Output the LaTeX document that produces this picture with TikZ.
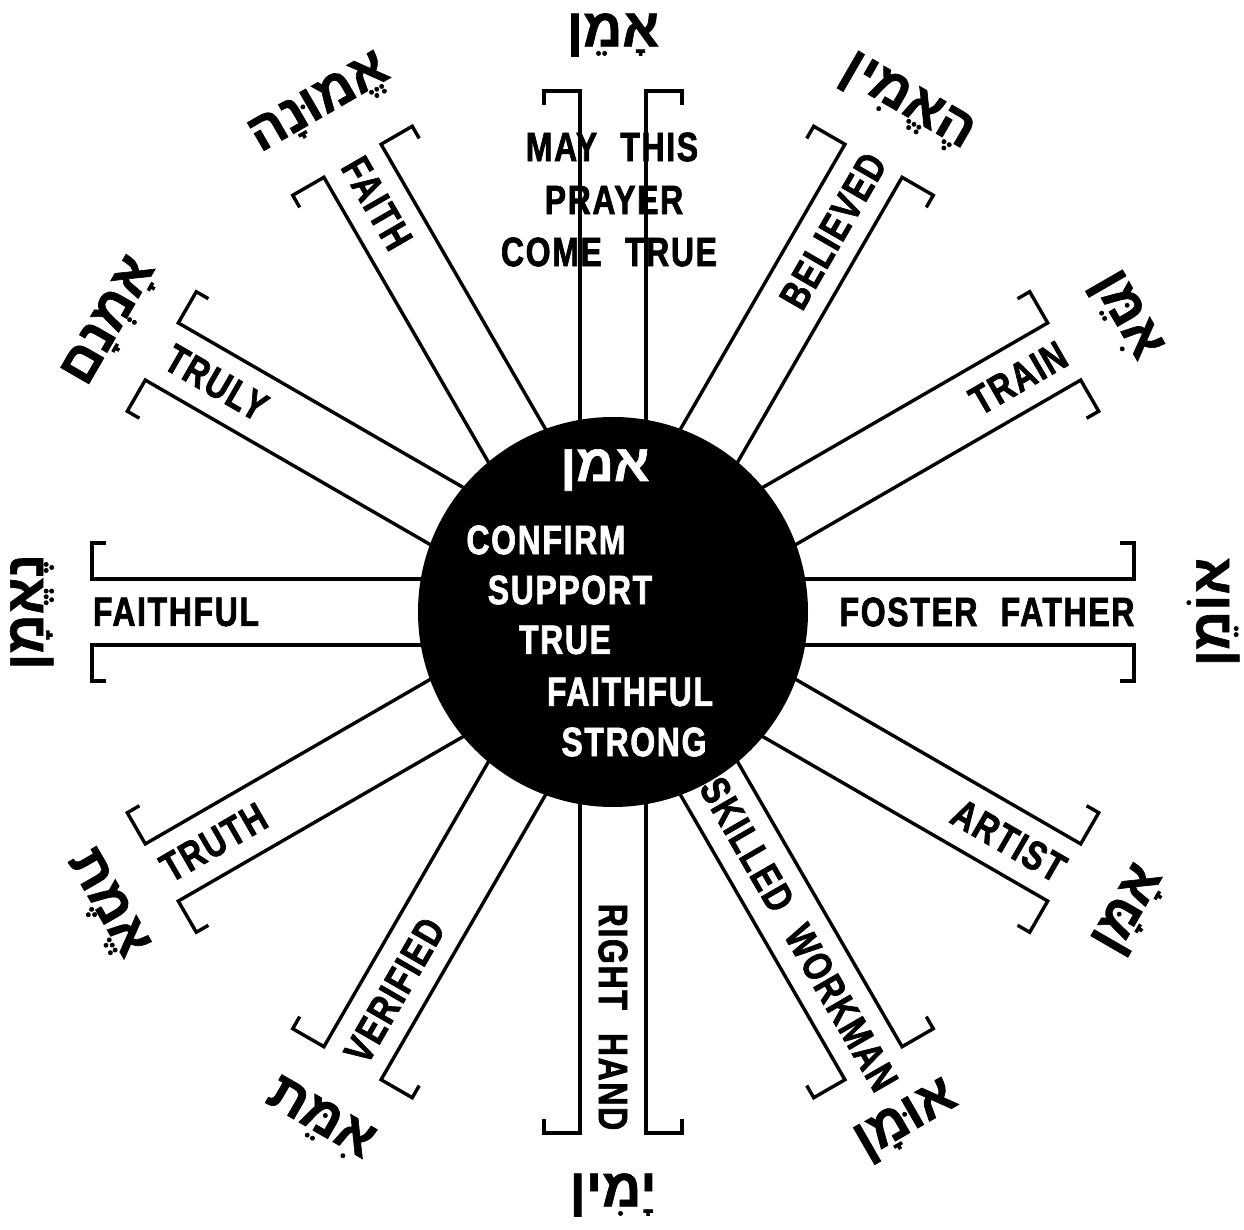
\documentclass[tikz,border=0pt]{standalone}
\usepackage{fontspec}
\TeXXeTstate=1
\newfontfamily\labfont[FakeStretch=0.78,LetterSpace=4,WordSpace=2.2,BoldFeatures={FakeBold=1.6}]{Liberation Sans}
\newfontfamily\hebfont[Script=Hebrew,BoldFeatures={FakeBold=1.2}]{Liberation Sans}
\begin{document}
\begin{tikzpicture}[x=1pt,y=1pt,
  band/.style={line width=3.4pt, line join=miter},
  lab/.style={font=\labfont\bfseries\fontsize{41}{44}\selectfont, inner sep=0pt},
  inlab/.style={lab, text=white},
  heb/.style={font=\hebfont\bfseries\fontsize{54}{58}\selectfont, inner sep=0pt},
  inheb/.style={font=\hebfont\bfseries\fontsize{52}{56}\selectfont, inner sep=0pt, text=white}]
\useasboundingbox (-613,-618) rectangle (631,612);
\fill[white] (-613,-618) rectangle (631,612);
% spokes
\foreach \a in {0,30,...,330}{
  \begin{scope}[rotate=\a]
    \draw[band] (150,33) -- (521,33) -- (521,69) -- (507,69);
    \draw[band] (150,-33) -- (521,-33) -- (521,-69) -- (507,-69);
  \end{scope}
}
% hub
\node[circle, fill=black, minimum size=390pt, inner sep=0pt] (hub) at (0,0) {};
\node[inheb] (c0) at (-8,142) {\beginR אמן\endR};
\node[inlab] (c1) at (-67,72) {CONFIRM};
\node[inlab] (c2) at (-43,22) {SUPPORT};
\node[inlab] (c3) at (-48,-28) {TRUE};
\node[inlab] (c4) at (17,-80) {FAITHFUL};
\node[inlab] (c5) at (21,-130) {STRONG};
% top spoke text
\node[lab] (t1) at (-1,465) {MAY THIS};
\node[lab] (t2) at (1,412) {PRAYER};
\node[lab] (t3) at (-4,360) {COME TRUE};
% English labels
\node[lab, rotate=0]   (e0)   at (0:374)   {FOSTER FATHER};
\node[lab, rotate=30]  (e30)  at (30:468)  {TRAIN};
\node[lab, rotate=60]  (e60)  at (60:440)  {BELIEVED};
\node[lab, rotate=-60] (e120) at (120:472) {FAITH};
\node[lab, rotate=-30] (e150) at (150:458) {TRULY};
\node[lab, rotate=0]   (e180) at (180:437) {FAITHFUL};
\node[lab, rotate=30]  (e210) at (210:461) {TRUTH};
\node[lab, rotate=60]  (e240) at (240:437) {VERIFIED};
\node[lab, rotate=-90] (e270) at (270:405) {RIGHT HAND};
\node[lab, rotate=-60] (e300) at (300:372) {SKILLED WORKMAN};
\node[lab, rotate=-30] (e330) at (330:457) {ARTIST};
% Hebrew words
\node[heb, rotate=0]   (h90)  at (90:577)  {\beginR אָמֵן\endR};
\node[heb, rotate=-30] (h60)  at (60:587)  {\beginR הֶאֱמִין\endR};
\node[heb, rotate=30]  (h120) at (120:585) {\beginR אֱמוּנָה\endR};
\node[heb, rotate=60]  (h150) at (150:579) {\beginR אָמְנָם\endR};
\node[heb, rotate=-60] (h30)  at (30:591)  {\beginR אִמֵּן\endR};
\node[heb, rotate=90]  (h0)   at (0:600)   {\beginR אוֹמֵן\endR};
\node[heb, rotate=90]  (h180) at (180:581) {\beginR נֶאֱמָן\endR};
\node[heb, rotate=60]  (h330) at (330:597) {\beginR אָמָּן\endR};
\node[heb, rotate=-60] (h210) at (210:586) {\beginR אֱמֶת\endR};
\node[heb, rotate=-30] (h240) at (240:587) {\beginR אִמֵּת\endR};
\node[heb, rotate=0]   (h270) at (270:583) {\beginR יָמִין\endR};
\node[heb, rotate=30]  (h300) at (300:588) {\beginR אוּמָן\endR};
\end{tikzpicture}
\end{document}
